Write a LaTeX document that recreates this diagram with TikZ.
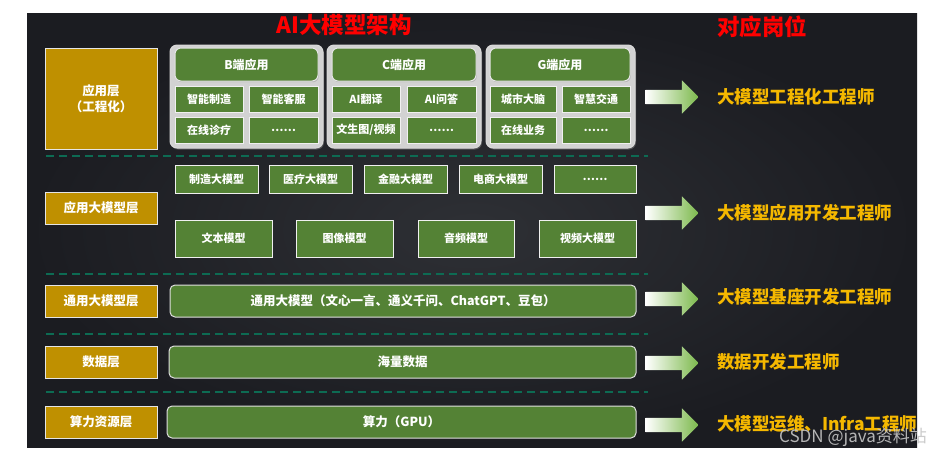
\documentclass[tikz,border=0pt]{standalone}
\usepackage{fontspec}
\setmainfont{Noto Sans CJK SC}
\usetikzlibrary{shapes.arrows,shadows}
\definecolor{gold}{HTML}{BF9000}
\definecolor{grn}{HTML}{548235}
\definecolor{cont}{HTML}{D2D2D2}
\definecolor{job}{HTML}{F5B800}
\definecolor{sepc}{HTML}{0D6B53}
\definecolor{arrg}{HTML}{7CB94C}
\definecolor{bgin}{HTML}{2E3035}
\definecolor{bgout}{HTML}{1B1C21}
\tikzset{
 base/.style={inner sep=0pt, align=center, text=white, font=\bfseries\fontsize{11}{13}\selectfont},
 goldbox/.style={base, fill=gold, draw=white!80!gray, line width=0.8pt, font=\bfseries\fontsize{12.5}{16}\selectfont},
 gbox/.style={base, fill=grn, draw=white!88!gray, line width=1pt},
 bar/.style={gbox, rounded corners=5pt, draw=white!75!gray, font=\bfseries\fontsize{12.5}{14}\selectfont},
 hdr/.style={gbox, rounded corners=6pt, draw=white!80!gray, font=\bfseries\fontsize{12}{14}\selectfont, drop shadow={opacity=0.35, shadow xshift=0.8pt, shadow yshift=-1.2pt}},
 contbox/.style={inner sep=0pt, fill=cont, draw=white!70!gray, line width=1pt, rounded corners=7pt, drop shadow={opacity=0.5, shadow xshift=1pt, shadow yshift=-1.5pt}},
 jobarrow/.style={single arrow, minimum height=53pt, minimum width=33pt, inner sep=7pt, single arrow head extend=9.5pt, left color=white, right color=arrg, draw=none},
 jobtext/.style={anchor=west, text=job, font=\bfseries\fontsize{17.5}{20}\selectfont, inner sep=0pt},
 sepline/.style={draw=sepc, line width=2pt, dash pattern=on 8pt off 5pt},
 heading/.style={text=red, font=\bfseries\fontsize{22.5}{26}\selectfont, inner sep=0pt},
}
% \bx{style}{name}{x1}{y1}{x2}{y2}{text}
\newcommand\bx[7]{\node[#1, minimum width={#5-#3}, minimum height={#6-#4}] (#2) at ({(#3+#5)/2},{(#4+#6)/2}) {#7};}
\begin{document}
\begin{tikzpicture}[x=1pt,y=-1pt]
\useasboundingbox (0,0) rectangle (935,451);
\fill[white] (0,0) rectangle (935,451);
\shade[inner color=bgin, outer color=bgout] (27,13) rectangle (917,447);

% headings
\node[heading] (title) at (344,25) {AI大模型架构};
\node[heading] (jobtitle) at (762,27) {对应岗位};

% ---------- application layer ----------
\bx{goldbox}{app}{45}{48}{157}{149}{应用层\\（工程化）}

\bx{contbox}{contB}{170}{45}{323}{148}{}
\bx{contbox}{contC}{327}{45}{481}{148}{}
\bx{contbox}{contG}{486}{45}{635}{148}{}

\bx{hdr}{hB}{175}{48}{318}{81}{B端应用}
\bx{gbox}{b11}{175}{86}{243}{112}{智能制造}
\bx{gbox}{b12}{249}{86}{318}{112}{智能客服}
\bx{gbox}{b21}{175}{117}{243}{143}{在线诊疗}
\bx{gbox}{b22}{249}{117}{318}{143}{……}

\bx{hdr}{hC}{332}{48}{476}{81}{C端应用}
\bx{gbox}{c11}{332}{86}{400}{112}{AI翻译}
\bx{gbox}{c12}{407}{86}{476}{112}{AI问答}
\bx{gbox}{c21}{332}{117}{400}{143}{文生图/视频}
\bx{gbox}{c22}{407}{117}{476}{143}{……}

\bx{hdr}{hG}{490}{48}{630}{81}{G端应用}
\bx{gbox}{g11}{490}{86}{556}{112}{城市大脑}
\bx{gbox}{g12}{562}{86}{630}{112}{智慧交通}
\bx{gbox}{g21}{490}{117}{556}{143}{在线业务}
\bx{gbox}{g22}{562}{117}{630}{143}{……}

\draw[sepline] (46,156) -- (648,156);

% ---------- application model layer ----------
\bx{goldbox}{appm}{45}{192}{157}{224}{应用大模型层}
\bx{gbox}{m1}{175}{165}{258}{193}{制造大模型}
\bx{gbox}{m2}{269}{165}{352}{193}{医疗大模型}
\bx{gbox}{m3}{364}{165}{447}{193}{金融大模型}
\bx{gbox}{m4}{459}{165}{542}{193}{电商大模型}
\bx{gbox}{m5}{554}{165}{636}{193}{……}
\bx{gbox}{t1}{175}{220}{272}{257}{文本模型}
\bx{gbox}{t2}{296}{220}{393}{257}{图像模型}
\bx{gbox}{t3}{418}{220}{514}{257}{音频模型}
\bx{gbox}{t4}{539}{220}{636}{257}{视频大模型}

\draw[sepline] (46,274) -- (648,274);

% ---------- general model layer ----------
\bx{goldbox}{gen}{45}{285}{157}{317}{通用大模型层}
\bx{bar}{genbar}{170}{285}{636}{317}{通用大模型（文心一言、通义千问、ChatGPT、豆包）}

\draw[sepline] (46,334) -- (648,334);

% ---------- data layer ----------
\bx{goldbox}{data}{45}{346}{157}{378}{数据层}
\bx{bar}{databar}{169}{346}{636}{378}{海量数据}

\draw[sepline] (46,392) -- (648,392);

% ---------- compute layer ----------
\bx{goldbox}{comp}{45}{406}{157}{438}{算力资源层}
\bx{bar}{compbar}{167}{406}{636}{438}{算力（GPU）}

% ---------- arrows and jobs ----------
\node[jobarrow] (a1) at (668.5,97) {};
\node[jobarrow] (a2) at (668.5,213) {};
\node[jobarrow] (a3) at (668.5,299) {};
\node[jobarrow] (a4) at (668.5,363) {};
\node[jobarrow] (a5) at (668.5,425) {};

\node[jobtext] (j1) at (717,97) {大模型工程化工程师};
\node[jobtext] (j2) at (717,213) {大模型应用开发工程师};
\node[jobtext] (j3) at (717,297) {大模型基座开发工程师};
\node[jobtext] (j4) at (717,362) {数据开发工程师};
\node[jobtext] (j5) at (717,424) {大模型运维、Infra工程师};

\node[anchor=west, inner sep=0pt, text=gray!45, opacity=0.9, font=\fontsize{17}{19}\selectfont] (wm) at (779,437) {CSDN @java资料站};
\end{tikzpicture}
\end{document}
